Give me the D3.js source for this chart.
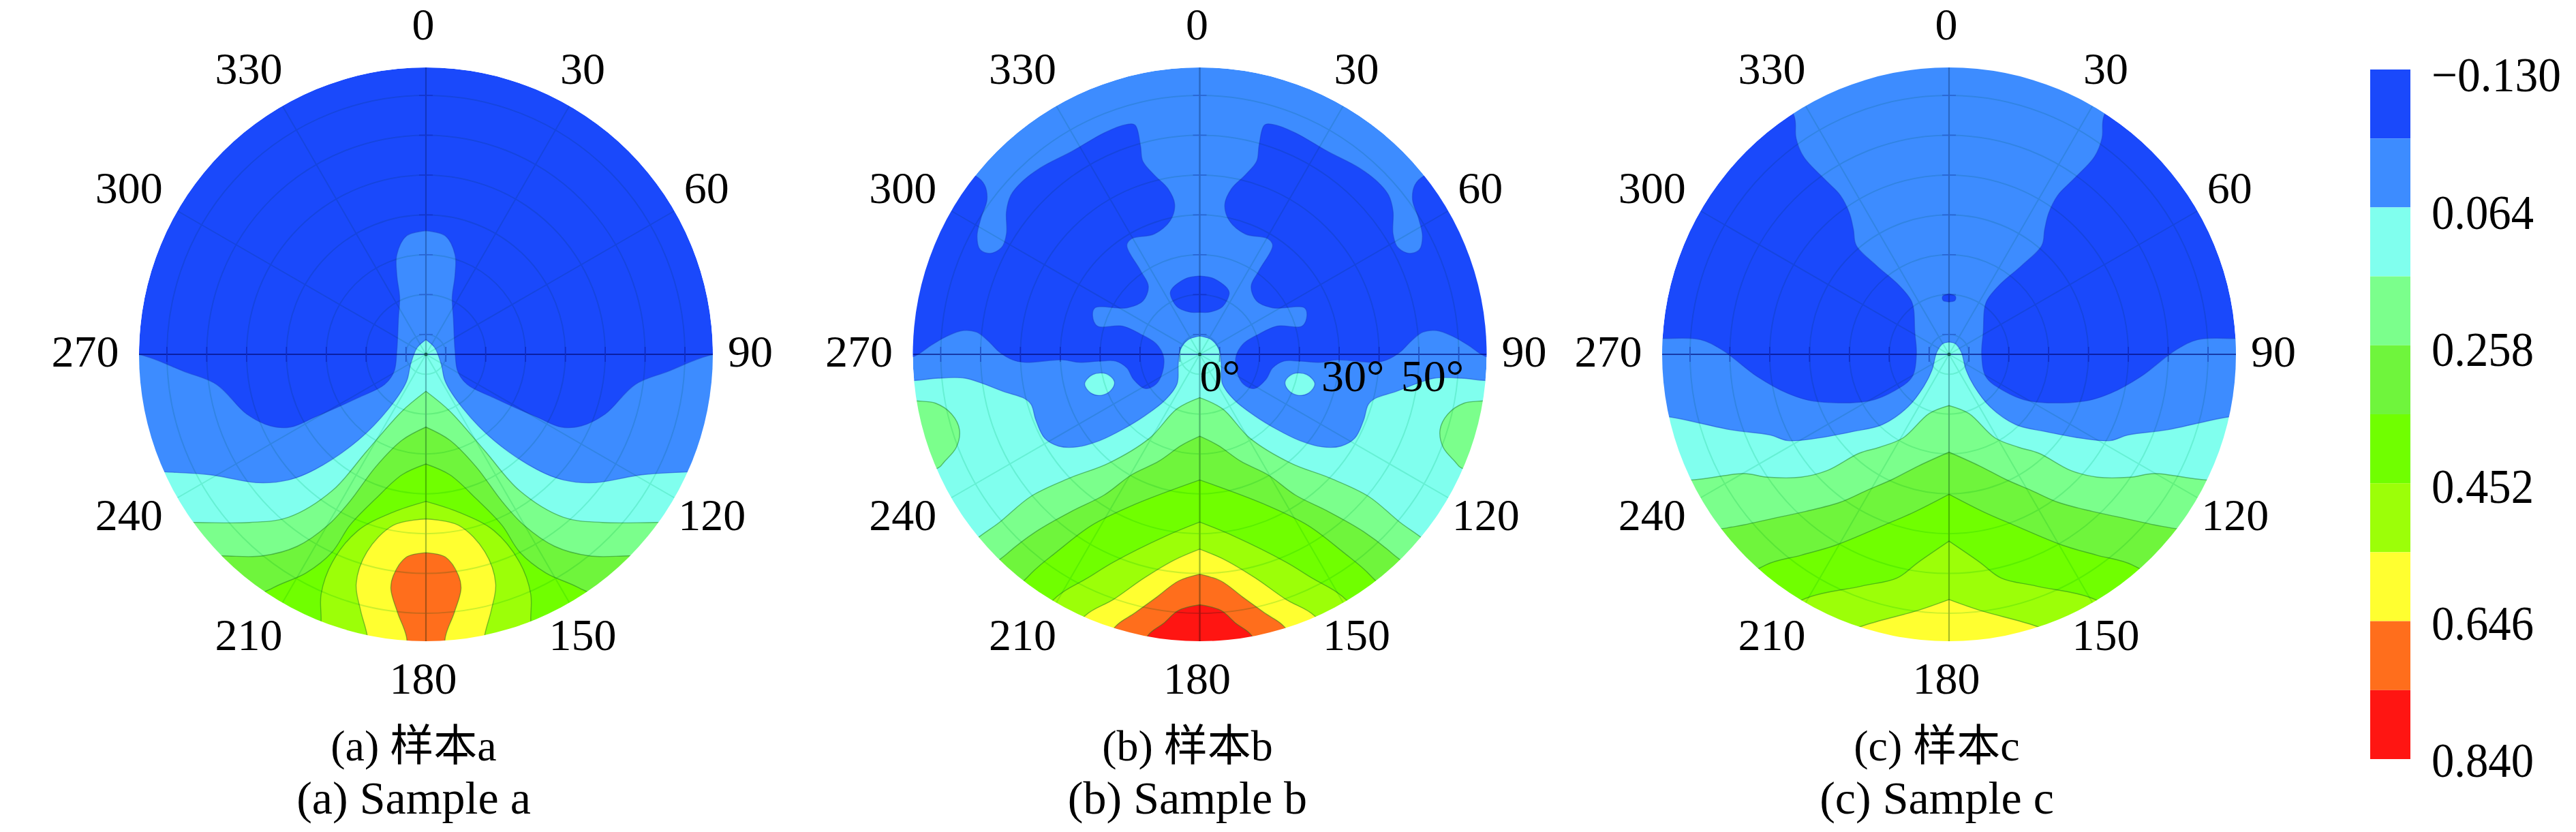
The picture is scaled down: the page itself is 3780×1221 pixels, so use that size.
<!DOCTYPE html>
<html><head><meta charset="utf-8">
<script src="https://cdn.jsdelivr.net/npm/d3@7"></script>
<style>
html,body{margin:0;padding:0;background:#fff;}
svg{display:block;}
text{font-family:"Liberation Serif",serif;fill:#000;}
.cjk{font-family:"Liberation Serif","Noto Sans CJK SC",serif;}
</style></head><body>
<svg id="chart" width="3780" height="1221"></svg>
<script>
// ---- legend ----
const bandColors = ["#1a49fb","#3d8cff","#80ffee","#7bff8c","#6ff53c","#70ff00","#9cff08","#ffff30","#ff6e1c","#ff1512"];
const legendLabels = ["\u22120.130","0.064","0.258","0.452","0.646","0.840"];
// ---- polar grid ----
const ringThetas = [5,15,25,35,45,55,65];
const spokeAngles = [0,30,60,90,120,150,180,210,240,270,300,330];
const axisAngles = [0,90,180,270];
const angleLabels = [0,30,60,90,120,150,180,210,240,270,300,330];
const ringLabels = [{t:"0\u00b0",u:0},{t:"30\u00b0",u:30},{t:"50\u00b0",u:50}];
const captionsCn = ["(a) \u6837\u672ca","(b) \u6837\u672cb","(c) \u6837\u672cc"];
const captionsEn = ["(a) Sample a","(b) Sample b","(c) Sample c"];

// ---- iso-boundaries, right half, as [u, v] in degrees of tilt on the pole figure ----
const a_lightBlue = [[0,31.1],[4.9,29.8],[7.3,25.1],[7.3,19.8],[6.6,14.4],[6.9,9.1],[7.3,1.1],[8,-4.3],[10.4,-7.6],[17,-10.9],[27.9,-15.8],[34,-18.3],[39,-18],[45,-15],[52.5,-7.6],[60.7,-4.3],[72.2,0],[82,0],[82,-82],[0,-82]];
const a_cyan = [[0,3.7],[2.2,1.7],[3.8,-2.3],[4.9,-6.9],[9.3,-13.6],[17,-21.6],[27.9,-29],[34.5,-31.6],[42.1,-32.3],[54.2,-30.3],[65.1,-29.6],[82,-29],[82,-82],[0,-82]];
const a_mint = [[0,-9.3],[6,-14.3],[14.8,-24.3],[23.5,-34.3],[34.5,-41],[44.3,-42.3],[57.4,-42.3],[80,-42],[80,-82],[0,-82]];
const a_green1 = [[0,-18.3],[6,-21.6],[12.6,-28.3],[19.1,-37],[24.6,-43],[32.3,-48.3],[41,-50.7],[50.9,-50.7],[70,-50],[70,-82],[0,-82]];
const a_green2 = [[0,-27.6],[6,-30.3],[12.6,-36.3],[19.1,-43],[23.5,-49.7],[30.1,-55],[38.3,-58.7],[50,-66],[50,-82],[0,-82]];
const a_yellowGreen = [[0,-37],[8.2,-39.7],[17,-44.3],[23.5,-52.3],[26.3,-60.3],[26.3,-66.4],[26,-82],[0,-84]];
const a_yellow = [[0,-41.4],[8.2,-43],[14.8,-49.7],[17.5,-57.7],[16.4,-64.4],[14.8,-70.4],[13,-82],[0,-84]];
const a_orange = [[0,-49.9],[4.9,-51],[8.2,-55.7],[8.8,-59],[7.1,-65],[4.9,-71],[4,-82],[0,-84]];

const b_deepIsland = [[16.3,57.7],[18.9,57.7],[24,55.7],[32,51.1],[40,46.9],[44.6,43.4],[47.4,40],[48.5,36],[48.5,30.3],[49.7,26.9],[52.6,25.4],[55.1,26.3],[55.9,29.7],[54.9,34.3],[53.4,38.9],[54,42.6],[56.3,44.9],[62.9,46.9],[80,24],[80,-0.6],[72,-0.6],[67.4,2.3],[63.4,4.6],[59.4,6],[56,5.6],[53.1,3.4],[50.3,0.6],[46.9,-1.4],[44,-2],[34.3,-1.4],[30.3,-2],[25.1,-1.7],[21.1,-1.7],[18.3,-3.4],[16.6,-6.3],[13.7,-8.6],[10.9,-7.4],[9.4,-4.6],[9.1,-0.6],[10.9,2.6],[14.9,5.1],[19.4,7.1],[25.7,7.1],[26.9,9.7],[26.3,11.7],[18.3,11.7],[14.3,13.4],[12.9,17.1],[14.9,21.1],[18.3,27.4],[17.1,29.1],[11.4,30.3],[7.4,33.7],[6.3,37.7],[8,41.7],[11.4,45.1],[14.3,48.6],[14.9,52.6]];
const b_deepCentre = [[0,19.7],[3.4,19.1],[6.9,16.6],[7.4,15.4],[5.7,12],[2.3,10.6],[0,10.6]];
const b_cyan = [[0,4.6],[2.9,3.7],[4.9,1.1],[5.4,-2.3],[5.7,-7.4],[8.6,-11.4],[13.7,-15.4],[19.4,-18.9],[25.1,-21.7],[30.9,-23.3],[35.4,-23.1],[38.9,-21.1],[41.1,-16.6],[42.3,-12.6],[44,-11.1],[49.1,-9.4],[54.3,-7.4],[58.9,-6],[65.7,-6],[72,-6.6],[82,-6.6],[82,-82],[0,-82]];
const b_cyanSpot = [[21.4,-6.9],[23.4,-4.9],[26.9,-5.1],[28.9,-7.4],[27.4,-9.7],[24.6,-10.3],[22.3,-9.1]];
const b_mintRim = [[71.4,-11.7],[66.3,-12.3],[62.3,-15],[60.3,-19],[61.1,-23.4],[64,-26.9],[65.7,-28.6],[80,-30],[80,-11]];
const b_mint = [[0,-10.9],[5.7,-13.7],[12.6,-21.1],[22.9,-27.4],[32.6,-31.1],[42.3,-35.7],[50.3,-42.3],[56.6,-46.9],[70,-60],[0,-90]];
const b_green1 = [[0,-20.6],[4.6,-22.9],[10.3,-26.9],[17.1,-30.3],[24,-35.4],[32,-39.4],[41.1,-44.6],[48.4,-50.2],[60,-62],[0,-90]];
const b_green2 = [[0,-31.6],[16.2,-37.7],[27.1,-43],[35.9,-49.7],[42.9,-55.7],[52,-68],[0,-90]];
const b_yellowGreen = [[0,-42.2],[8.5,-45.7],[21.7,-52.3],[28.2,-56.3],[35.9,-61],[44,-72],[0,-90]];
const b_yellow = [[0,-49],[6.3,-51.7],[14,-56.3],[21.7,-61.7],[28.7,-65.7],[36,-76],[0,-90]];
const b_orange = [[0,-55.3],[5.3,-57],[10.7,-61],[16.2,-65],[21.3,-68.6],[26,-78],[0,-90]];
const b_red = [[0,-63],[5.3,-64.4],[9.1,-67.7],[12.9,-70.6],[16,-78],[0,-90]];

const c_lightBlue = [[0,82],[45,72],[38.8,59.7],[38.4,54.4],[36.5,49.7],[31.2,44],[27.3,40],[25,35.5],[24,31.4],[23.3,27.4],[18.2,22.3],[12.9,17.7],[9.6,13.7],[8.9,11.5],[8.6,5.7],[8.2,0],[9.3,-5.7],[13.6,-9.1],[20,-11.7],[33.8,-11.8],[40.5,-9.8],[48.1,-5.6],[56.9,1.1],[62.4,3.7],[72,4],[82,4],[82,-82],[0,-82]];
const c_deepDot = [[0,15.2],[1.5,14.7],[1.7,14.2],[1.4,13.5],[0,13.2]];
const c_cyan = [[0,3.1],[1.7,2.6],[3.1,0.5],[4.3,-4],[6.3,-8],[10.3,-13.2],[16.8,-17.7],[24,-19.4],[33.8,-21.2],[40.5,-21.7],[44.9,-20.3],[54.7,-19],[71.1,-15.6],[82,-15],[82,-82],[0,-82]];
const c_mint = [[0,-12.9],[5,-14.9],[11.5,-21],[17.5,-23.4],[22.6,-24.9],[30.5,-29.2],[37.2,-30.9],[45.6,-30.9],[51.5,-30],[64.6,-31.6],[80,-31],[80,-82],[0,-82]];
const c_green1 = [[0,-24.6],[7.5,-28],[14.3,-31.5],[20.8,-34.3],[27.3,-37.2],[35.9,-39.5],[43.8,-41.2],[51.5,-42.9],[55.8,-43.7],[70,-47],[70,-82],[0,-82]];
const c_green2 = [[0,-35.2],[8.8,-39.7],[16.4,-43],[28.4,-48],[37,-50.5],[46,-53],[55,-60],[55,-84],[0,-84]];
const c_yellowGreen = [[0,-47],[7.7,-52.3],[13.1,-56.3],[21.9,-58.3],[36.7,-61.7],[45,-68],[45,-84],[0,-84]];
const c_yellow = [[0,-61.7],[7.7,-64.4],[21.9,-68.4],[30,-72],[30,-84],[0,-84]];

// ---- layers in painting order: level = index into bandColors ----
const panels = [
 {base:0, layers:[[1,a_lightBlue,"sym"],[2,a_cyan,"sym"],[3,a_mint,"sym"],[4,a_green1,"sym"],[5,a_green2,"sym"],[6,a_yellowGreen,"sym"],[7,a_yellow,"sym"],[8,a_orange,"sym"]]},
 {base:1, layers:[[0,b_deepIsland,"pair"],[0,b_deepCentre,"sym"],[2,b_cyan,"sym"],[2,b_cyanSpot,"pair"],[3,b_mintRim,"pair"],[3,b_mint,"sym"],[4,b_green1,"sym"],[5,b_green2,"sym"],[6,b_yellowGreen,"sym"],[7,b_yellow,"sym"],[8,b_orange,"sym"],[9,b_red,"sym"]]},
 {base:0, layers:[[1,c_lightBlue,"sym"],[0,c_deepDot,"sym"],[2,c_cyan,"sym"],[3,c_mint,"sym"],[4,c_green1,"sym"],[5,c_green2,"sym"],[6,c_yellowGreen,"sym"],[7,c_yellow,"sym"]]}
];

// ---- layout ----
const centres = [625, 1760.5, 2860], cy = 520, R = 421, thetaMax = 72;
const svg = d3.select("#chart");
const mirror = p => p.map(d => [-d[0], d[1]]);
const closedSym = p => p.concat(mirror(p).reverse());

panels.forEach((panel, i) => {
  const cx = centres[i];
  const x = d3.scaleLinear().domain([-thetaMax, thetaMax]).range([cx - R, cx + R]);
  const y = d3.scaleLinear().domain([-thetaMax, thetaMax]).range([cy + R - 1, cy - R + 1]);
  const r = d3.scaleLinear().domain([0, thetaMax]).range([0, R]);
  const line = d3.line().x(d => x(d[0])).y(d => y(d[1])).curve(d3.curveCatmullRomClosed.alpha(0.5));
  const clipId = "clip" + i;
  svg.append("clipPath").attr("id", clipId).append("circle").attr("cx", cx).attr("cy", cy).attr("r", R);
  const g = svg.append("g").attr("clip-path", `url(#${clipId})`);
  const inner = g.append("g").style("filter", "blur(0.7px)");
  inner.append("circle").attr("cx", cx).attr("cy", cy).attr("r", R).attr("fill", bandColors[panel.base]);

  const shapes = [];
  panel.layers.forEach(([level, pts, kind]) => {
    if (kind === "sym") shapes.push({level, pts: closedSym(pts)});
    else { shapes.push({level, pts}); shapes.push({level, pts: mirror(pts)}); }
  });
  inner.selectAll("path.band").data(shapes).join("path").attr("class", "band")
    .attr("d", d => line(d.pts))
    .attr("fill", d => bandColors[d.level])
    .attr("stroke", d => d.level >= 3 ? "#1d7a20" : "#1a3ed0")
    .attr("stroke-opacity", d => d.level >= 3 ? 0.5 : 0.5)
    .attr("stroke-width", 1.4);

  // grid
  const grid = inner.append("g").style("mix-blend-mode", "multiply").attr("fill", "none");
  grid.selectAll("circle").data(ringThetas).join("circle")
    .attr("cx", cx).attr("cy", cy).attr("r", d => r(d))
    .attr("stroke", "#ccf0e4").attr("stroke-width", 2);
  grid.selectAll("line.spoke").data(spokeAngles).join("line").attr("class", "spoke")
    .attr("x1", cx).attr("y1", cy)
    .attr("x2", d => cx + R * Math.sin(d * Math.PI / 180))
    .attr("y2", d => cy - R * Math.cos(d * Math.PI / 180))
    .attr("stroke", "#ccf0e4").attr("stroke-width", 2);
  grid.selectAll("line.axis").data(axisAngles).join("line").attr("class", "axis")
    .attr("x1", cx).attr("y1", cy)
    .attr("x2", d => cx + R * Math.sin(d * Math.PI / 180))
    .attr("y2", d => cy - R * Math.cos(d * Math.PI / 180))
    .attr("stroke", d => (d === 90 || d === 270) ? "#5a6aa8" : "#a8bcc4").attr("stroke-width", 2.2);
  // ring crossings on the axes
  ringThetas.forEach(t => {
    [1,-1].forEach(s => {
      grid.append("line").attr("x1", cx + s * r(t)).attr("x2", cx + s * r(t)).attr("y1", cy - 11).attr("y2", cy + 11)
        .attr("stroke", "#8a96c8").attr("stroke-width", 1.6);
    });
    grid.append("line").attr("x1", cx - 10).attr("x2", cx + 10).attr("y1", cy - r(t)).attr("y2", cy - r(t))
      .attr("stroke", "#a8b4d4").attr("stroke-width", 1.6);
  });
  inner.append("circle").attr("cx", cx).attr("cy", cy).attr("r", 2.5).attr("fill", "#145a50");

  // azimuth labels
  svg.append("g").selectAll("text").data(angleLabels).join("text")
    .attr("x", d => {
      const base = cx + 480 * Math.sin(d * Math.PI / 180);
      if (d === 30 || d === 150) return base - 10;
      if (d === 120) return base + 4;
      return base + (d > 180 ? -20 : -4);
    })
    .attr("y", d => cy - 480 * Math.cos(d * Math.PI / 180) - 4)
    .attr("dy", "0.34em").attr("text-anchor", "middle").attr("font-size", 66)
    .text(d => d);

  svg.append("text").attr("class", "cjk").attr("x", cx - 18).attr("y", 1094).attr("dy", "0.34em")
    .attr("text-anchor", "middle").attr("font-size", 64).text(captionsCn[i]);
  svg.append("text").attr("x", cx - 18).attr("y", 1174).attr("dy", "0.3em")
    .attr("text-anchor", "middle").attr("font-size", 68).text(captionsEn[i]);

  // ring annotations only on panel b
  if (i === 1) {
    svg.append("g").selectAll("text").data(ringLabels).join("text")
      .attr("x", d => x(d.u) + (d.u ? 3 : 0)).attr("y", cy + 32).attr("dy", "0.34em")
      .attr("font-size", 66).text(d => d.t);
  }
});

// ---- colour bar ----
const barX = 3478, barW = 59, barTop = 102, barBottom = 1114;
const yBand = d3.scaleBand().domain(d3.range(bandColors.length)).range([barTop, barBottom]);
const yTick = d3.scalePoint().domain(legendLabels).range([110, 1116]);
svg.append("g").selectAll("rect").data(bandColors).join("rect")
  .attr("x", barX).attr("width", barW)
  .attr("y", (d, i) => yBand(i)).attr("height", yBand.bandwidth())
  .attr("fill", d => d);
svg.append("g").selectAll("text").data(legendLabels).join("text")
  .attr("x", 3568).attr("y", d => yTick(d)).attr("dy", "0.34em")
  .attr("font-size", 72)
  .attr("textLength", (d, i) => i === 0 ? 190 : 150)
  .attr("lengthAdjust", "spacingAndGlyphs")
  .text(d => d);
</script>
</body></html>
